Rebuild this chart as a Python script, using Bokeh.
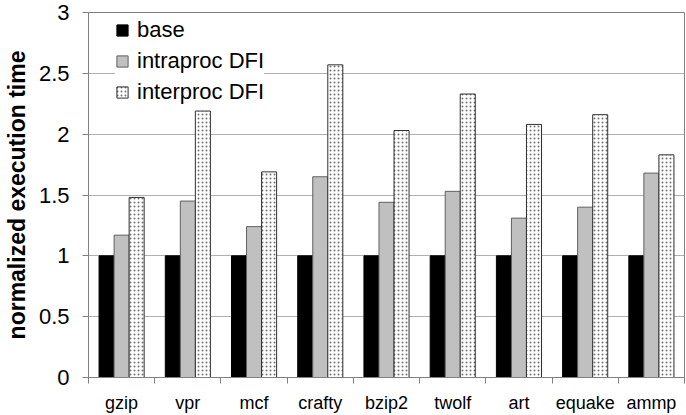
import numpy as np
from bokeh.plotting import figure
from bokeh.models import ColumnDataSource, Range1d, FixedTicker, Legend, LegendItem
from bokeh.transform import dodge
from bokeh.embed import file_html
from bokeh.resources import INLINE

categories = ["gzip", "vpr", "mcf", "crafty", "bzip2", "twolf", "art", "equake", "ammp"]
base = [1, 1, 1, 1, 1, 1, 1, 1, 1]
intraproc = [1.17, 1.45, 1.24, 1.65, 1.44, 1.53, 1.31, 1.40, 1.68]
interproc = [1.48, 2.19, 1.69, 2.57, 2.03, 2.33, 2.08, 2.16, 1.83]
series_names = ["base", "intraproc DFI", "interproc DFI"]
y_ticks = [0, 0.5, 1, 1.5, 2, 2.5, 3]
y_tick_labels = ["0", "0.5", "1", "1.5", "2", "2.5", "3"]

FONT = "Liberation Sans"
AXIS_COLOR = "#808080"
GRID_COLOR = "#b0b0b0"

n = len(categories)
idx = np.arange(n)
bw = 0.227

src = ColumnDataSource(dict(
    x=idx, base=base, intraproc=intraproc, interproc=interproc,
))

p = figure(width=686, height=415, output_backend="svg", toolbar_location=None,
           x_range=Range1d(-0.5, n - 0.5), y_range=Range1d(0, 3),
           min_border_left=83, min_border_right=2, min_border_top=12,
           min_border_bottom=38)

r_base = p.vbar(x=dodge("x", -bw, range=p.x_range), top="base", width=bw, source=src,
                fill_color="black", line_color="black", line_width=1)
r_intra = p.vbar(x=dodge("x", 0, range=p.x_range), top="intraproc", width=bw, source=src,
                 fill_color="#c0c0c0", line_color="#606060", line_width=1)
r_inter = p.vbar(x=dodge("x", bw, range=p.x_range), top="interproc", width=bw, source=src,
                 fill_color="white", line_color="#303030", line_width=1,
                 hatch_pattern=".", hatch_color="black", hatch_scale=4,
                 hatch_alpha=0.55)

# axes
p.xaxis.ticker = FixedTicker(ticks=list(idx), minor_ticks=list(idx - 0.5) + [n - 0.5])
p.xaxis.major_label_overrides = {int(i): c for i, c in zip(idx, categories)}
p.xaxis.major_tick_line_color = None
p.xaxis.major_tick_out = 6
p.xaxis.major_tick_in = 0
p.xaxis.minor_tick_out = 6
p.xaxis.minor_tick_in = 0
p.xaxis.minor_tick_line_color = AXIS_COLOR
p.xaxis.axis_line_color = AXIS_COLOR
p.xaxis.major_label_text_font = FONT
p.xaxis.major_label_text_font_size = "18px"
p.xaxis.major_label_text_color = "black"
p.xaxis.major_label_standoff = 9

p.yaxis.ticker = FixedTicker(ticks=y_ticks)
p.yaxis.major_label_overrides = {t: l for t, l in zip(y_ticks, y_tick_labels)}
p.yaxis.major_tick_out = 6
p.yaxis.major_tick_in = 0
p.yaxis.minor_tick_line_color = None
p.yaxis.major_tick_line_color = AXIS_COLOR
p.yaxis.axis_line_color = AXIS_COLOR
p.yaxis.major_label_text_font = FONT
p.yaxis.major_label_text_font_size = "22px"
p.yaxis.major_label_text_color = "black"
p.yaxis.major_label_standoff = 13
p.yaxis.axis_label = "normalized execution time"
p.yaxis.axis_label_text_font = FONT
p.yaxis.axis_label_text_font_size = "23px"
p.yaxis.axis_label_text_font_style = "bold"
p.yaxis.axis_label_text_color = "black"
p.yaxis.axis_label_standoff = 6

p.xgrid.visible = False
p.ygrid.ticker = FixedTicker(ticks=y_ticks)
p.ygrid.grid_line_color = GRID_COLOR
p.outline_line_color = AXIS_COLOR

legend = Legend(items=[
    LegendItem(label=series_names[0], renderers=[r_base]),
    LegendItem(label=series_names[1], renderers=[r_intra]),
    LegendItem(label=series_names[2], renderers=[r_inter]),
], location=(27, 272))
legend.label_text_font = FONT
legend.label_text_font_size = "22px"
legend.label_text_color = "black"
legend.glyph_width = 14
legend.glyph_height = 14
legend.label_standoff = 8
legend.spacing = 5
legend.padding = 3
legend.margin = 0
legend.border_line_color = None
legend.background_fill_color = "white"
legend.background_fill_alpha = 1
p.add_layout(legend)

open("out.html", "w").write(file_html(p, INLINE))
